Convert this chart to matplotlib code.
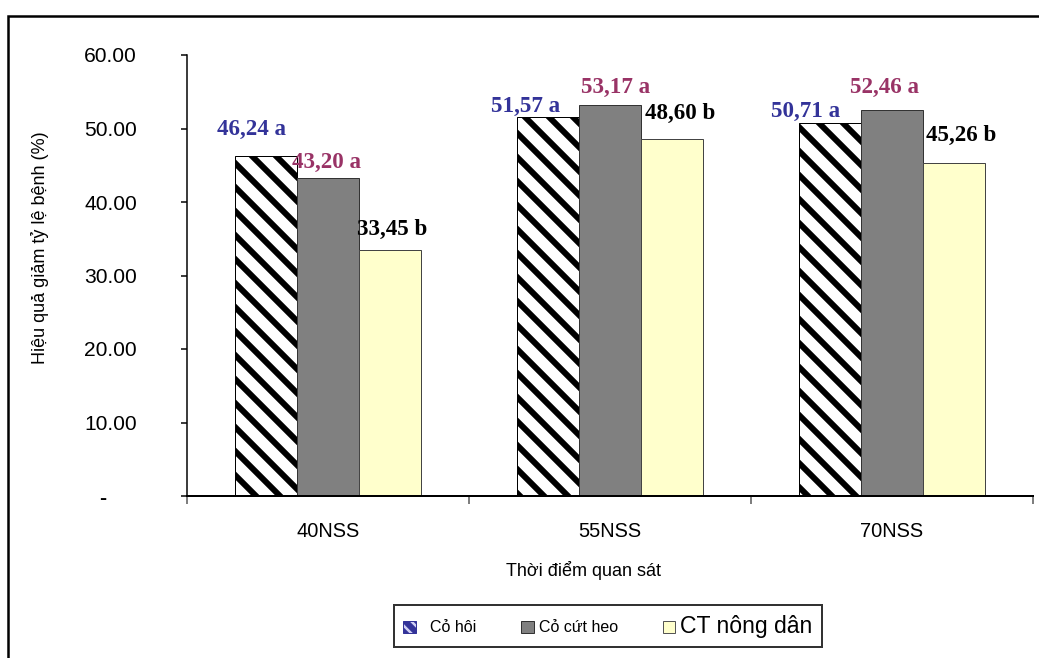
import numpy as np
import matplotlib
matplotlib.use('Agg')
import matplotlib.pyplot as plt
from matplotlib.patches import Patch, Rectangle

# data
categories = ['40NSS', '55NSS', '70NSS']
series = ['Cỏ hôi', 'Cỏ cứt heo', 'CT nông dân']
co_hoi = [46.24, 51.57, 50.71]
co_cut_heo = [43.20, 53.17, 52.46]
ct_nong_dan = [33.45, 48.60, 45.26]
letters_co_hoi = ['a', 'a', 'a']
letters_co_cut_heo = ['a', 'a', 'a']
letters_ct = ['b', 'b', 'b']
yticks = [0, 10, 20, 30, 40, 50, 60]
ytick_labels = ['-     ', '10.00', '20.00', '30.00', '40.00', '50.00', '60.00']

# label nudges in px (dx, dy above bar top)
nudge_co_hoi = [(-14, 27), (-22, 10), (-24, 12)]
nudge_co_cut = [(-1, 16), (6, 18), (-7, 23)]
nudge_ct = [(2, 21), (8, 25), (7, 28)]

plt.rcParams['font.family'] = ['Liberation Sans', 'DejaVu Sans']
plt.rcParams['hatch.linewidth'] = 6

W, H = 1039, 658
fig = plt.figure(figsize=(W / 72, H / 72), dpi=72)
ax = fig.add_axes([187 / W, 1 - 496 / H, (1033 - 187) / W, (496 - 55) / H])

x = np.arange(len(categories))
w = 0.22
b1 = ax.bar(x - w, co_hoi, w, facecolor='white', edgecolor='black', hatch='\\', linewidth=1)
b2 = ax.bar(x, co_cut_heo, w, facecolor='#808080', edgecolor='#333333', linewidth=1)
b3 = ax.bar(x + w, ct_nong_dan, w, facecolor='#FFFFCC', edgecolor='#444444', linewidth=1)

serif = ['Liberation Serif', 'DejaVu Serif']
for bars, vals, lets, nud, col in [(b1, co_hoi, letters_co_hoi, nudge_co_hoi, '#333399'),
                                    (b2, co_cut_heo, letters_co_cut_heo, nudge_co_cut, '#993366'),
                                    (b3, ct_nong_dan, letters_ct, nudge_ct, 'black')]:
    for rect, v, l, (dx, dy) in zip(bars, vals, lets, nud):
        txt = f'{v:.2f}'.replace('.', ',') + ' ' + l
        ax.annotate(txt, (rect.get_x() + rect.get_width() / 2, v),
                    xytext=(dx, dy), textcoords='offset points',
                    ha='center', va='center', fontsize=23, fontweight='bold',
                    color=col, family=serif)

ax.set_xlim(-0.5, 2.5)
ax.set_ylim(0, 60)
ax.set_yticks(yticks)
ax.set_yticklabels(ytick_labels, fontsize=21)
ax.get_yticklabels()[0].set_fontweight('bold')
ax.set_xticks(x)
ax.set_xticklabels(categories, fontsize=20)
ax.set_xticks([-0.5, 0.5, 1.5, 2.5], minor=True)
ax.tick_params(axis='x', which='major', length=0, pad=26)
ax.tick_params(axis='x', which='minor', length=8, width=1.5, direction='out', color='#555555')
ax.tick_params(axis='y', length=6, width=1.5, pad=44)
for s in ['top', 'right']:
    ax.spines[s].set_visible(False)
ax.spines['left'].set_linewidth(1.5)
ax.spines['bottom'].set_linewidth(2)

fig.text(40 / W, 1 - 248 / H, 'Hiệu quả giảm tỷ lệ bệnh (%)', rotation=90,
         ha='center', va='center', fontsize=18)
fig.text(584 / W, 1 - 571 / H, 'Thời điểm quan sát', ha='center', va='center', fontsize=18)

# outer chart-area border
fig.patches.append(Rectangle((8 / W, -0.05), 1.1, 1 - 16 / H + 0.05, transform=fig.transFigure,
                             fill=False, edgecolor='black', linewidth=2.5))

handles = [Patch(facecolor='#d0d0f4', edgecolor='#333399', hatch='\\\\', linewidth=1),
           Patch(facecolor='#808080', edgecolor='#333333', linewidth=1),
           Patch(facecolor='#FFFFCC', edgecolor='#555555', linewidth=1)]
leg = fig.legend(handles, ['  Cỏ hôi', 'Cỏ cứt heo', 'CT nông dân'], ncol=3,
                 loc='center', bbox_to_anchor=(608 / W, 1 - 626 / H),
                 fancybox=False, frameon=True, edgecolor='black', fontsize=16,
                 handlelength=0.8, handleheight=0.8, handletextpad=0.3,
                 columnspacing=2.8, borderpad=0.6)
leg.get_frame().set_linewidth(2)
leg.get_texts()[2].set_fontsize(23)

fig.savefig('out.png', dpi=72)
